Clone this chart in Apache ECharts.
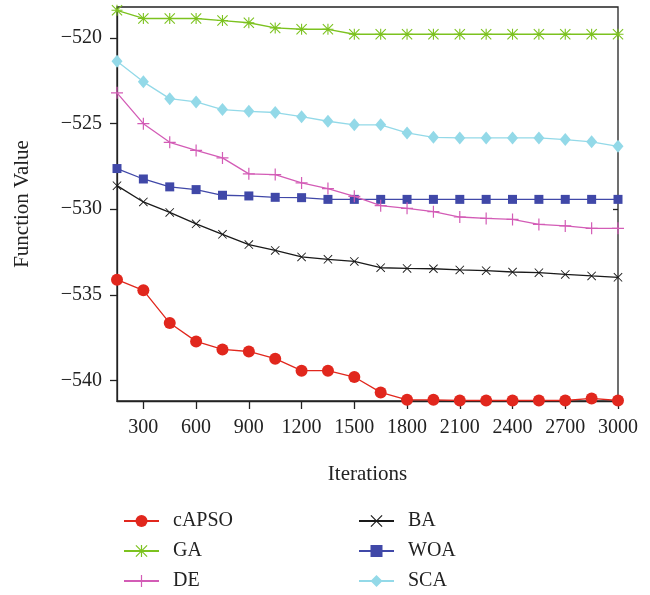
<!DOCTYPE html>
<html>
<head>
<meta charset="utf-8">
<script src="https://cdn.jsdelivr.net/npm/echarts@6/dist/echarts.min.js"></script>
<style>html,body{margin:0;padding:0;background:#fff;}#c{width:650px;height:595px;}</style>
</head>
<body>
<div id="c"></div>
<script>
const iterations = [150,300,450,600,750,900,1050,1200,1350,1500,1650,1800,1950,2100,2250,2400,2550,2700,2850,3000];
const xTicks = [300,600,900,1200,1500,1800,2100,2400,2700,3000];
const yTicks = [-540,-535,-530,-525,-520];
const cAPSO = [-534.12,-534.74,-536.65,-537.72,-538.19,-538.31,-538.73,-539.43,-539.43,-539.80,-540.70,-541.13,-541.13,-541.17,-541.17,-541.17,-541.17,-541.17,-541.05,-541.17];
const GA = [-518.39,-518.87,-518.87,-518.87,-518.99,-519.12,-519.42,-519.50,-519.50,-519.79,-519.79,-519.79,-519.79,-519.79,-519.79,-519.79,-519.79,-519.79,-519.79,-519.79];
const DE = [-523.21,-525.01,-526.10,-526.57,-527.01,-527.94,-527.98,-528.47,-528.80,-529.25,-529.80,-529.95,-530.15,-530.46,-530.54,-530.60,-530.89,-530.98,-531.12,-531.12];
const BA = [-528.63,-529.58,-530.19,-530.86,-531.47,-532.07,-532.41,-532.79,-532.93,-533.05,-533.42,-533.46,-533.48,-533.55,-533.59,-533.67,-533.71,-533.81,-533.90,-533.98];
const WOA = [-527.63,-528.24,-528.70,-528.86,-529.19,-529.23,-529.31,-529.33,-529.43,-529.43,-529.43,-529.43,-529.43,-529.43,-529.43,-529.43,-529.43,-529.43,-529.43,-529.43];
const SCA = [-521.37,-522.57,-523.55,-523.74,-524.19,-524.29,-524.36,-524.60,-524.87,-525.08,-525.08,-525.55,-525.81,-525.84,-525.84,-525.84,-525.84,-525.94,-526.07,-526.33];

const FONT = 'Liberation Serif';
const TXT = '#222';
const PLUS = 'path://M4.5,0h1v10h-1z M0,4.5h10v1h-10z';
const CROSS = 'path://M0,0.7L0.7,0L10,9.3L9.3,10Z M9.3,0L10,0.7L0.7,10L0,9.3Z';
const STAR = 'path://M4.5,0h1v10h-1z M0,4.5h10v1h-10z M0,0.7L0.7,0L10,9.3L9.3,10Z M9.3,0L10,0.7L0.7,10L0,9.3Z';

function pairs(arr){ return arr.map((v,i)=>[iterations[i], v]); }
function mk(name, data, color, symbol, size, z){
  return {
    name: name, type: 'line', data: pairs(data), symbol: symbol, symbolSize: size,
    showSymbol: true, z: z,
    lineStyle: {color: color, width: 1.3},
    itemStyle: {color: color, borderWidth: 0},
    emphasis: {disabled: true}, animation: false
  };
}
const fmtY = v => String(v).replace('-', '\u2212');
const fmtX = v => String(v);

const chart = echarts.init(document.getElementById('c'), null, {renderer: 'canvas'});
chart.setOption({
  backgroundColor: '#fff',
  animation: false,
  grid: {left: 117, right: 32, top: 7, bottom: 194, show: true, borderColor: '#222', borderWidth: 1.3, backgroundColor: 'transparent'},
  legend: [
    {data: ['cAPSO','GA','DE'], orient: 'vertical', left: 123, top: 511, padding: 0, itemWidth: 35, itemHeight: 15, itemGap: 10,
     textStyle: {fontFamily: FONT, fontSize: 20, color: TXT, padding: [0,0,0,9]}},
    {data: ['BA','WOA','SCA'], orient: 'vertical', left: 358, top: 511, padding: 0, itemWidth: 35, itemHeight: 15, itemGap: 10,
     textStyle: {fontFamily: FONT, fontSize: 20, color: TXT, padding: [0,0,0,9]}}
  ],
  xAxis: {
    type: 'value', min: 150, max: 3000,
    name: 'Iterations', nameLocation: 'middle', nameGap: 63,
    nameTextStyle: {fontFamily: FONT, fontSize: 21, color: TXT},
    axisLine: {show: true, lineStyle: {color: '#222', width: 1.3}},
    axisTick: {show: true, inside: false, length: 8, customValues: xTicks, lineStyle: {color: '#222', width: 1.3}},
    axisLabel: {customValues: xTicks, formatter: fmtX, fontFamily: FONT, fontSize: 20, color: TXT, margin: 17},
    splitLine: {show: false}
  },
  yAxis: [
    {
      type: 'value', min: -541.2, max: -518.2, position: 'left',
      name: 'Function Value', nameLocation: 'middle', nameGap: 84, nameRotate: 90,
      nameTextStyle: {fontFamily: FONT, fontSize: 21, color: TXT},
      axisLine: {show: true, lineStyle: {color: '#222', width: 1.3}},
      axisTick: {show: true, inside: false, length: 7, customValues: yTicks, lineStyle: {color: '#222', width: 1.3}},
      axisLabel: {customValues: yTicks, formatter: fmtY, fontFamily: FONT, fontSize: 20, color: TXT, margin: 15},
      splitLine: {show: false}
    },
    {
      type: 'value', min: -541.2, max: -518.2, position: 'right',
      axisLine: {show: false},
      axisTick: {show: true, inside: true, length: 5, customValues: [-530], lineStyle: {color: '#222', width: 1.3}},
      axisLabel: {show: false},
      splitLine: {show: false}
    }
  ],
  series: [
    mk('cAPSO', cAPSO, '#e1271d', 'circle', 12, 6),
    mk('GA', GA, '#7cc21f', STAR, 11, 5),
    mk('DE', DE, '#d35cb6', PLUS, 12, 4),
    mk('BA', BA, '#1a1a1a', CROSS, 9, 3),
    mk('WOA', WOA, '#4048a8', 'rect', 9, 2),
    mk('SCA', SCA, '#93d9e8', 'diamond', [11,13], 1)
  ]
});
</script>
</body>
</html>
